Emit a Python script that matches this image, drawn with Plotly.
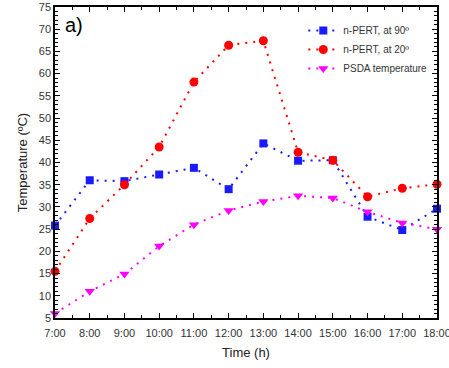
import plotly.graph_objects as go

hours = [7, 8, 9, 10, 11, 12, 13, 14, 15, 16, 17, 18]
tick_labels = ["7:00", "8:00", "9:00", "10:00", "11:00", "12:00", "13:00",
               "14:00", "15:00", "16:00", "17:00", "18:00"]
npert_90 = [25.8, 36.0, 35.8, 37.3, 38.8, 34.0, 44.3, 40.4, 40.5, 27.8, 24.8, 29.6]
npert_20 = [15.5, 27.4, 35.0, 43.5, 58.1, 66.4, 67.4, 42.3, 40.5, 32.3, 34.2, 35.1]
psda = [6.0, 11.0, 14.9, 21.2, 26.0, 29.2, 31.2, 32.5, 32.0, 28.9, 26.4, 25.0]

series = [
    ("n-PERT, at 90º", npert_90, "#1a1aff", "square", 8),
    ("n-PERT, at 20º", npert_20, "#ff0000", "circle", 9),
    ("PSDA temperature", psda, "#ff00ff", "triangle-down", 9),
]

FONT = "Liberation Sans, Arial, sans-serif"

fig = go.Figure()
for name, ys, col, sym, sz in series:
    fig.add_trace(go.Scatter(
        x=hours, y=ys, name=name, mode="lines+markers",
        line=dict(color=col, dash="2px,6px", width=2),
        marker=dict(color=col, symbol=sym, size=sz),
        cliponaxis=False,
    ))

axis_common = dict(
    showgrid=False, zeroline=False, showline=True, linecolor="black", linewidth=1.5,
    mirror="allticks", ticks="inside", ticklen=5, tickwidth=1, tickcolor="black",
    automargin=False, ticklabeloverflow="allow",
    tickfont=dict(family=FONT, size=11, color="#333"),
)

fig.update_xaxes(
    range=[7, 18], tickvals=hours, ticktext=tick_labels, ticklabelstandoff=4,
    minor=dict(ticks="inside", ticklen=3, dtick=0.5, tickcolor="black"),
    title=dict(text="Time (h)", font=dict(family=FONT, size=13, color="#222"), standoff=10),
    **axis_common,
)
fig.update_yaxes(
    range=[5, 75], dtick=5, tick0=5,
    minor=dict(ticks="inside", ticklen=3, dtick=1, tickcolor="black"),
    title=dict(text="Temperature (ºC)", font=dict(family=FONT, size=13, color="#222"), standoff=8),
    **axis_common,
)

fig.add_annotation(text="a)", xref="paper", yref="paper", x=0.02, y=0.985,
                   xanchor="left", yanchor="top", showarrow=False,
                   font=dict(family=FONT, size=20, color="black"))

fig.update_layout(
    width=449, height=368,
    margin=dict(l=55, r=12, t=7, b=50),
    paper_bgcolor="white", plot_bgcolor="white",
    legend=dict(x=0.65, y=0.971, xanchor="left", yanchor="top",
                bgcolor="rgba(0,0,0,0)", tracegroupgap=0,
                font=dict(family=FONT, size=10, color="#333")),
)

fig.write_html("out.html")
